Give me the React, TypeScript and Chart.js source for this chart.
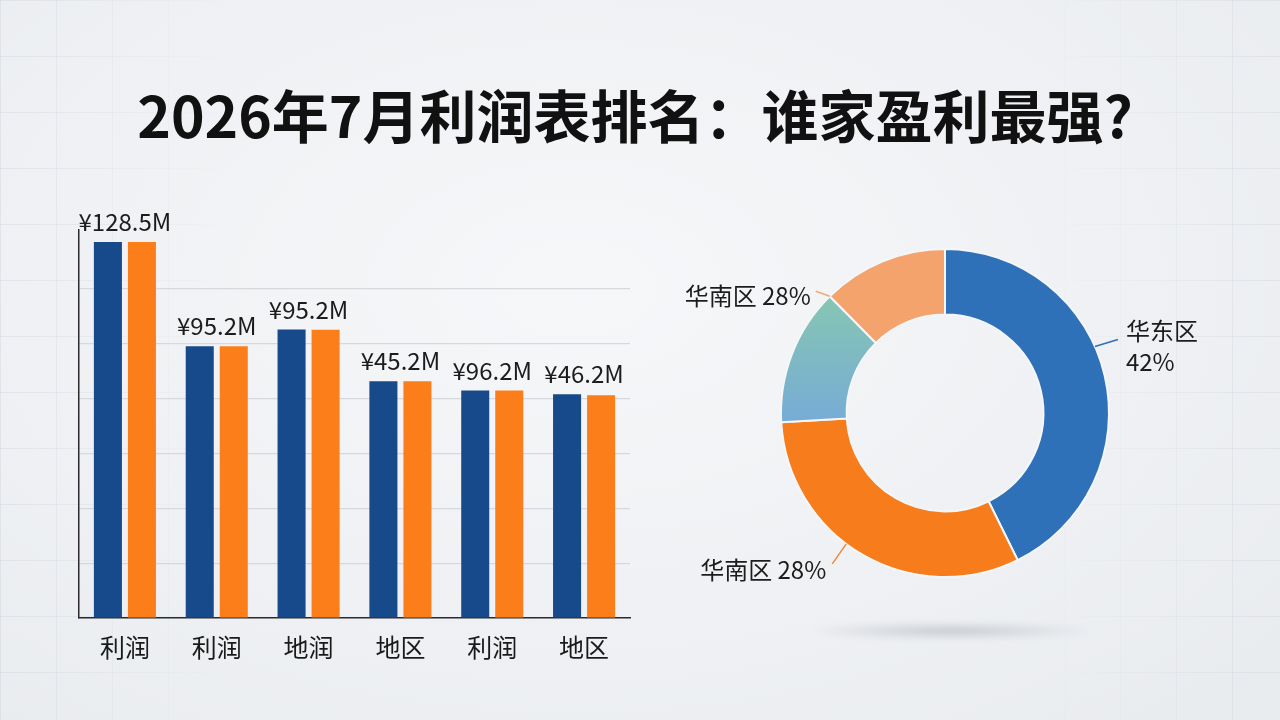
import React, { useEffect, useRef } from "react";
import { Chart, registerables } from "chart.js";

Chart.register(...registerables);

// ---------- data ----------
const titleText = "2026年7月利润表排名：谁家盈利最强?";
const barCategories = ["利润", "利润", "地润", "地区", "利润", "地区"];
const barLabels = ["¥128.5M", "¥95.2M", "¥95.2M", "¥45.2M", "¥96.2M", "¥46.2M"];
const seriesA = [137.1, 99.1, 105.2, 86.3, 83.0, 81.6];
const seriesB = [137.1, 99.1, 105.1, 86.3, 83.0, 81.2];
const yMax = 141.5;
const yStep = 20;

const donutLabels = ["华东区", "华南区", "其他A", "华南区"];
const donutValues = [42.7, 31.4, 13.5, 12.4];
const donutTexts = [["华东区", "42%"], ["华南区 28%"], [], ["华南区 28%"]];

const FONT = '"Noto Sans CJK SC", "Noto Sans", sans-serif';

const barValueLabelPlugin = {
  id: "barValueLabels",
  afterDatasetsDraw(chart: any) {
    const ctx = chart.ctx;
    const y = chart.scales.y;
    const x = chart.scales.x;
    ctx.save();
    ctx.font = `24px ${FONT}`;
    ctx.fillStyle = "#1c1c1c";
    ctx.textAlign = "center";
    ctx.textBaseline = "middle";
    barCategories.forEach((_, i) => {
      const top = Math.max(seriesA[i], seriesB[i]);
      const py = y.getPixelForValue(top);
      const px = x.getPixelForValue(i);
      ctx.fillText(barLabels[i], px, py - 20);
    });
    ctx.restore();
  },
};

// label config: fraction along arc, line offset, text offset, align
const donutLabelCfg: any[] = [
  { frac: 0.43, line: [23, -7], text: [31, -16], align: "left", lineColor: "#2f6fb5" },
  { frac: 0.56, line: [-14, 20], text: [-20, 26], align: "right", lineColor: "#f08a3a" },
  null,
  { frac: 0.0, line: [-14, -5], text: [-19, 0], align: "right", lineColor: "#f2a878" },
];

const donutLabelPlugin = {
  id: "donutLabels",
  afterDatasetsDraw(chart: any) {
    const ctx = chart.ctx;
    const meta = chart.getDatasetMeta(0);
    ctx.save();
    meta.data.forEach((arc: any, i: number) => {
      const cfg = donutLabelCfg[i];
      if (!cfg) return;
      const { x, y, startAngle, endAngle, outerRadius } = arc.getProps(
        ["x", "y", "startAngle", "endAngle", "outerRadius"],
        true
      );
      const a = startAngle + cfg.frac * (endAngle - startAngle);
      const ax = x + Math.cos(a) * outerRadius;
      const ay = y + Math.sin(a) * outerRadius;
      ctx.strokeStyle = cfg.lineColor;
      ctx.lineWidth = 1.5;
      ctx.beginPath();
      ctx.moveTo(ax, ay);
      ctx.lineTo(ax + cfg.line[0], ay + cfg.line[1]);
      ctx.stroke();
      ctx.font = `24px ${FONT}`;
      ctx.fillStyle = "#1c1c1c";
      ctx.textAlign = cfg.align;
      ctx.textBaseline = "middle";
      const lines: string[] = donutTexts[i];
      lines.forEach((t, k) => {
        ctx.fillText(t, ax + cfg.text[0], ay + cfg.text[1] + k * 31);
      });
    });
    ctx.restore();
  },
};

export default function App() {
  const barRef = useRef<HTMLCanvasElement>(null);
  const donutRef = useRef<HTMLCanvasElement>(null);

  useEffect(() => {
    const bar = new Chart(barRef.current!, {
      type: "bar",
      data: {
        labels: barCategories,
        datasets: [
          {
            label: "A",
            data: seriesA,
            backgroundColor: "#164a8a",
            categoryPercentage: 0.741,
            barPercentage: 0.824,
          },
          {
            label: "B",
            data: seriesB,
            backgroundColor: "#fb7e1a",
            categoryPercentage: 0.741,
            barPercentage: 0.824,
          },
        ],
      },
      options: {
        responsive: false,
        animation: false,
        layout: { padding: { left: 79, top: 230, right: 30, bottom: 44 } },
        plugins: {
          legend: { display: false },
          tooltip: { enabled: false },
          title: { display: false },
        },
        scales: {
          x: {
            grid: { display: false, drawTicks: false },
            border: { display: true, color: "#2a2a2a", width: 1.5 },
            ticks: {
              padding: 14,
              color: "#1a1a1a",
              font: { family: FONT, size: 25 },
            },
          },
          y: {
            min: 0,
            max: yMax,
            ticks: { display: false, stepSize: yStep },
            grid: {
              drawTicks: false,
              color: (c: any) =>
                c.tick && c.tick.value > 0 && c.tick.value % yStep === 0 ? "#d5d9de" : "rgba(0,0,0,0)",
              lineWidth: 1.2,
            },
            border: { display: true, color: "#2a2a2a", width: 1.5 },
          },
        },
      },
      plugins: [barValueLabelPlugin],
    });

    const donut = new Chart(donutRef.current!, {
      type: "doughnut",
      data: {
        labels: donutLabels,
        datasets: [
          {
            data: donutValues,
            backgroundColor: (c: any) => {
              const i = c.dataIndex;
              if (i === 0) return "#2f71b9";
              if (i === 1) return "#f77d1c";
              if (i === 3) return "#f5a36d";
              const g = c.chart.ctx.createLinearGradient(0, 80, 0, 215);
              g.addColorStop(0, "#86c7b1");
              g.addColorStop(1, "#76aad8");
              return g;
            },
            borderColor: "#f4f6f8",
            borderWidth: 2,
          },
        ],
      },
      options: {
        responsive: false,
        animation: false,
        cutout: "60%",
        layout: { padding: { left: 135, right: 135, top: 35, bottom: 35 } },
        plugins: {
          legend: { display: false },
          tooltip: { enabled: false },
        },
      },
      plugins: [donutLabelPlugin],
    });

    return () => {
      bar.destroy();
      donut.destroy();
    };
  }, []);

  return (
    <div
      style={{
        position: "fixed",
        left: 0,
        top: 0,
        width: 1280,
        height: 720,
        overflow: "hidden",
        background:
          "radial-gradient(ellipse at 45% 40%, #f6f7f9 0%, #eef0f3 60%, #e8ebee 100%)",
      }}
    >
      <div
        style={{
          position: "absolute",
          inset: 0,
          backgroundImage:
            "linear-gradient(rgba(200,206,214,0.35) 1px, transparent 1px), linear-gradient(90deg, rgba(200,206,214,0.35) 1px, transparent 1px)",
          backgroundSize: "56px 56px",
          maskImage: "linear-gradient(90deg, black 0%, transparent 18%, transparent 82%, black 100%)",
          WebkitMaskImage:
            "linear-gradient(90deg, black 0%, transparent 18%, transparent 82%, black 100%)",
        }}
      />
      <div
        style={{
          position: "absolute",
          left: 805,
          top: 622,
          width: 290,
          height: 18,
          borderRadius: "50%",
          background: "radial-gradient(ellipse at center, rgba(150,155,165,0.45) 0%, rgba(150,155,165,0) 70%)",
          filter: "blur(3px)",
        }}
      />
      <div
        style={{
          position: "absolute",
          left: 0,
          top: 78,
          width: 1270,
          textAlign: "center",
          fontFamily: FONT,
          fontWeight: 700,
          fontSize: 57,
          lineHeight: "70px",
          color: "#111",
        }}
      >
        {titleText}
      </div>
      <canvas
        ref={barRef}
        width={660}
        height={720}
        style={{ position: "absolute", left: 0, top: 0 }}
      />
      <canvas
        ref={donutRef}
        width={600}
        height={400}
        style={{ position: "absolute", left: 645, top: 213 }}
      />
    </div>
  );
}
